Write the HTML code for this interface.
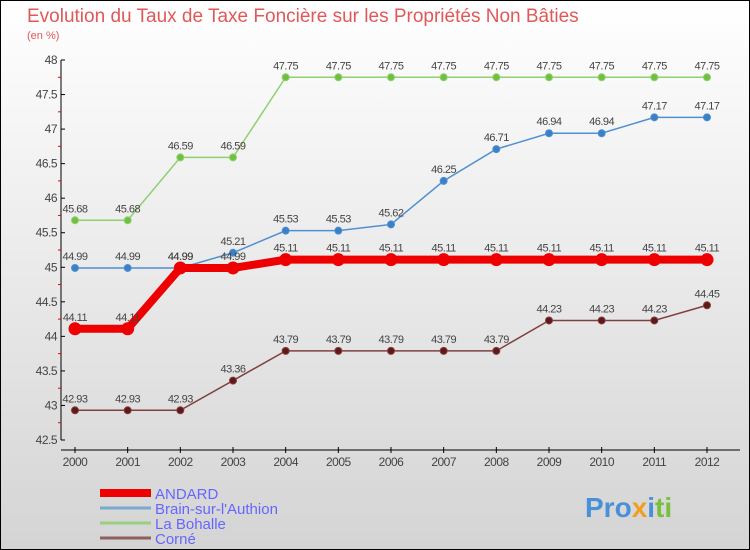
<!DOCTYPE html>
<html><head><meta charset="utf-8">
<style>
body{margin:0}
#wrap{width:750px;height:550px;position:relative;box-sizing:border-box;border:1px solid #000;background:linear-gradient(#ffffff,#d4d4d4);font-family:"Liberation Sans",sans-serif;overflow:hidden}
</style></head>
<body>
<div id="wrap">
<svg id="svg" width="750" height="550" style="position:absolute;left:-1px;top:-1px">
<text x="27" y="22" font-size="19" fill="#e05858">Evolution du Taux de Taxe Foncière sur les Propriétés Non Bâties</text>
<text x="27" y="39" font-size="11" fill="#e05858">(en %)</text>
<text x="585" y="517" font-size="28" font-weight="bold" fill="#4a90d9">Pro<tspan fill="#f0a020">x</tspan><tspan fill="#4a90d9">i</tspan><tspan fill="#7ac040">ti</tspan></text>
</svg>
</div>
<script>
const years=[2000,2001,2002,2003,2004,2005,2006,2007,2008,2009,2010,2011,2012];
const andard=[44.11,44.11,44.99,44.99,45.11,45.11,45.11,45.11,45.11,45.11,45.11,45.11,45.11];
const brain=[44.99,44.99,44.99,45.21,45.53,45.53,45.62,46.25,46.71,46.94,46.94,47.17,47.17];
const bohalle=[45.68,45.68,46.59,46.59,47.75,47.75,47.75,47.75,47.75,47.75,47.75,47.75,47.75];
const corne=[42.93,42.93,42.93,43.36,43.79,43.79,43.79,43.79,43.79,44.23,44.23,44.23,44.45];
const yTicks=[42.5,43,43.5,44,44.5,45,45.5,46,46.5,47,47.5,48];
const seriesNames=["ANDARD","Brain-sur-l'Authion","La Bohalle","Corné"];
const svg=document.getElementById('svg');const NS='http://www.w3.org/2000/svg';
function X(i){return 75+i*(707-75)/(years.length-1);}
function Y(v){return 440-(v-42.5)*(380/5.5);}
function mk(t,a,p){const e=document.createElementNS(NS,t);for(const k in a)e.setAttribute(k,a[k]);(p||svg).appendChild(e);return e;}
// axes
let ax=mk('line',{x1:61,y1:60,x2:61,y2:440,stroke:'#000','stroke-width':1});

let bx=mk('line',{x1:61,y1:450,x2:740,y2:450,stroke:'#000','stroke-width':1});

yTicks.forEach((v,i)=>{const y=Y(v);
 mk('line',{x1:61,y1:y,x2:65,y2:y,stroke:'#000'});
 if(i<yTicks.length-1)mk('line',{x1:58,y1:Y(v+0.25),x2:61,y2:Y(v+0.25),stroke:'#e00'});
 const t=mk('text',{x:57,y:y+4,'font-size':12,fill:'#444','text-anchor':'end','letter-spacing':'-0.5'});t.textContent=String(v);
 });
years.forEach((yr,i)=>{const x=X(i);
 mk('line',{x1:x,y1:447,x2:x,y2:453,stroke:'#000'});
 const t=mk('text',{x:x,y:466,'font-size':12,fill:'#444','text-anchor':'middle','letter-spacing':'-0.5'});t.textContent=String(yr);
 });
function series(data,color,dot,lw,r,name){
 const g=mk('g',{});
 mk('polyline',{points:data.map((v,i)=>X(i)+','+Y(v)).join(' '),fill:'none',stroke:color,'stroke-width':lw},g);
 data.forEach((v,i)=>{const c=mk('circle',{cx:X(i),cy:Y(v),r:r,fill:dot,stroke:color,'stroke-width':1},g);
  
  const t=mk('text',{x:X(i),y:Y(v)-8,'font-size':11,fill:'#444','text-anchor':'middle','letter-spacing':'-0.5'},g);t.textContent=String(v);});
}
series(corne,'#804040','#601818',1.5,3.5,'series-corne');
series(brain,'#5090d0','#3a80c8',1.5,3.5,'series-brain');
series(bohalle,'#90d070','#70c040',1.5,3.5,'series-bohalle');
series(andard,'#ee0000','#ee0000',8,6,'series-andard');
const lc=['#ee0000','#7aa8d0','#98d080','#906060'];const lw=[8,3,3,3];
seriesNames.forEach((n,i)=>{const y=493+i*15;
 const l=mk('line',{x1:100,y1:y,x2:151,y2:y,stroke:lc[i],'stroke-width':lw[i]});
 
 const t=mk('text',{x:155,y:y+6,'font-size':15,fill:'#6666ff'});t.textContent=n;
 });
</script>
</body></html>
